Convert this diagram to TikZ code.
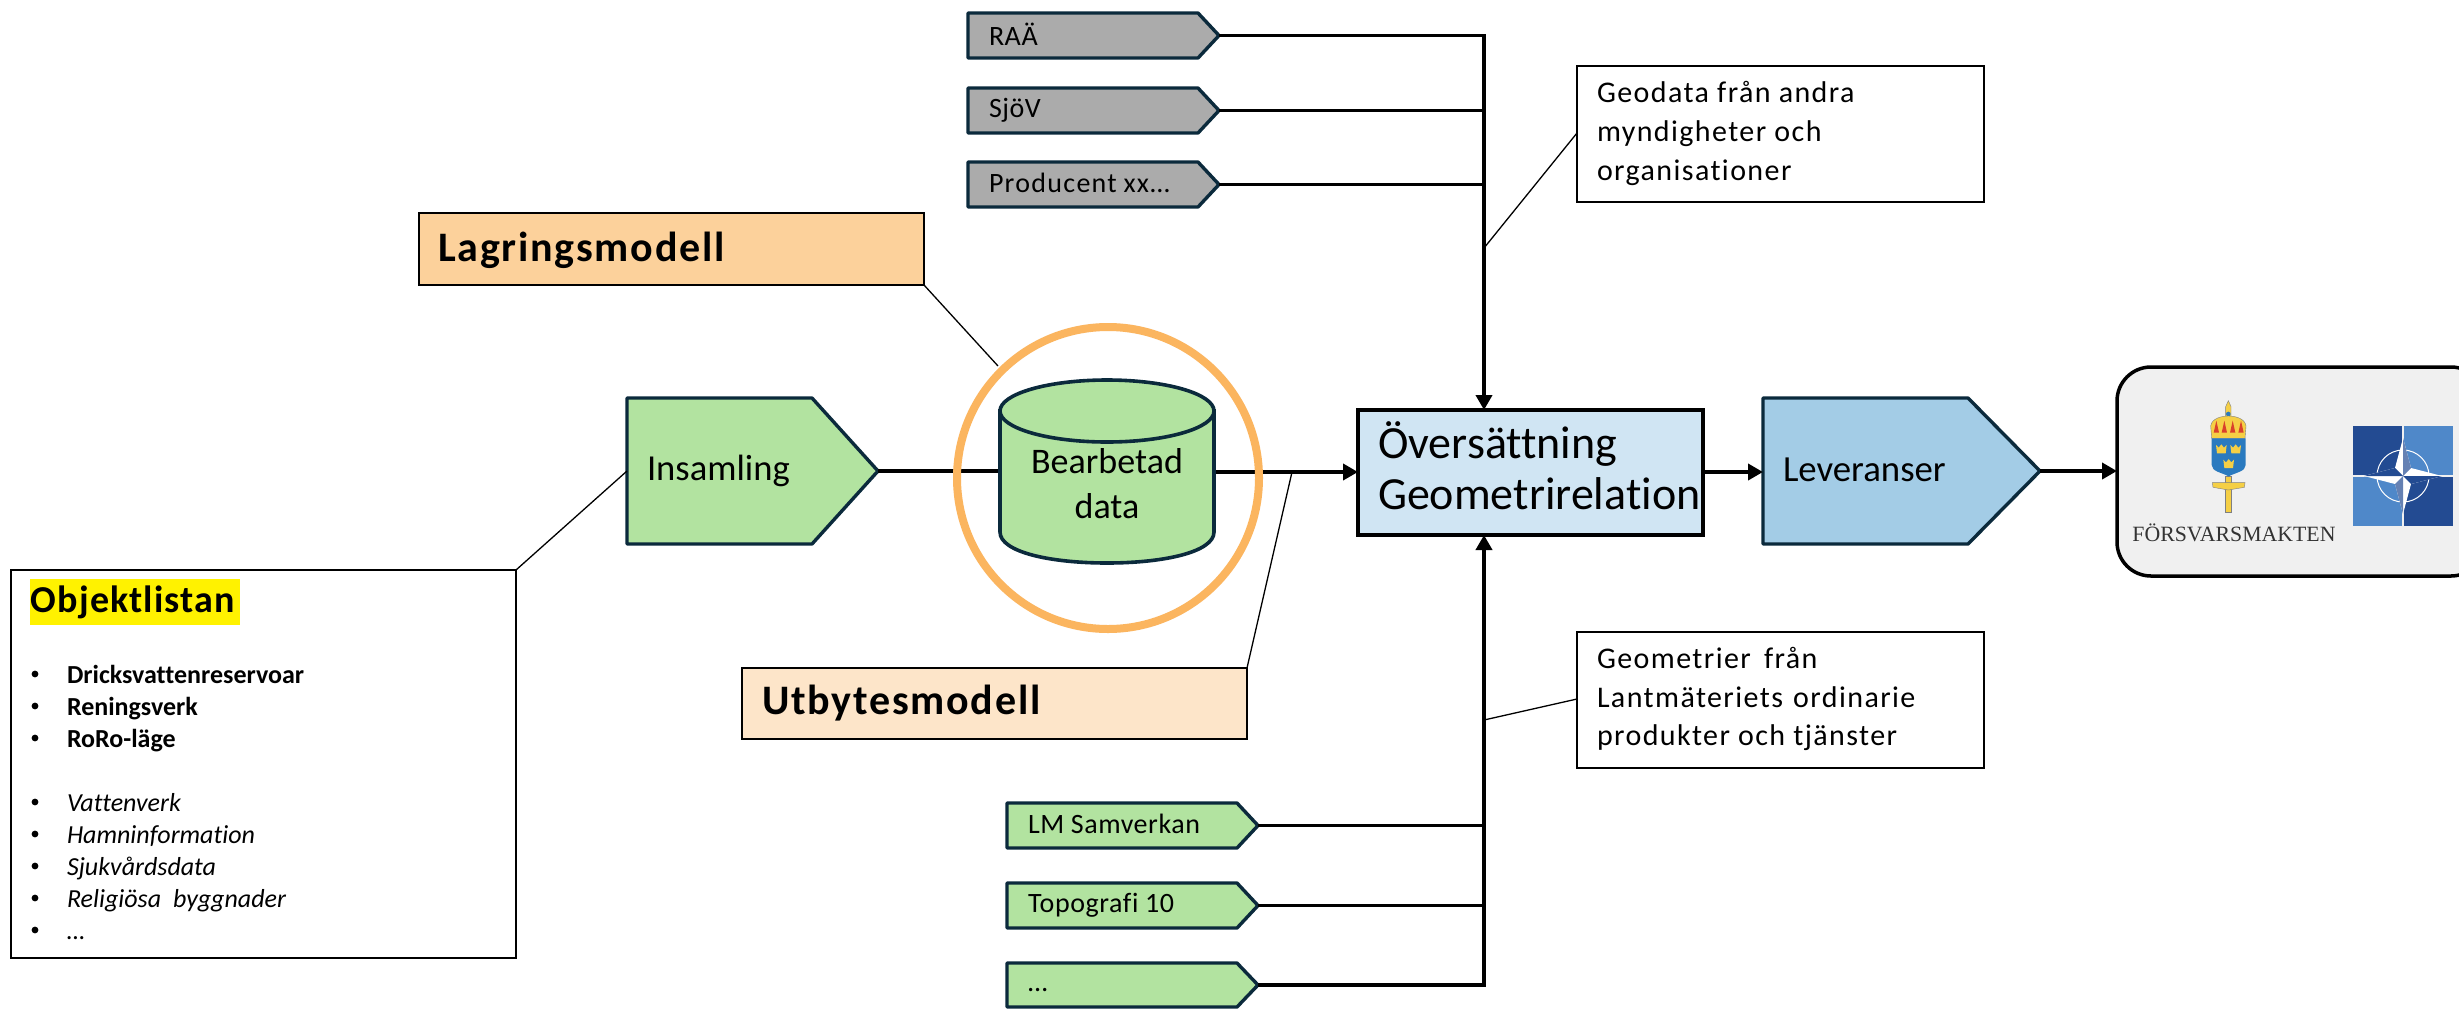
\documentclass[tikz,border=0pt]{standalone}
\usepackage{fontspec}
\setmainfont{Carlito}[Ligatures=NoCommon]
\newfontfamily\serifx{Liberation Serif}
\usetikzlibrary{arrows.meta}
\definecolor{edge}{HTML}{0B2A3C}
\definecolor{greenf}{HTML}{B2E3A0}
\definecolor{grayf}{HTML}{ABABAB}
\definecolor{bluel}{HTML}{D0E5F3}
\definecolor{bluem}{HTML}{A3CCE6}
\definecolor{ringc}{HTML}{FBB55F}
\definecolor{lagc}{HTML}{FCD19B}
\definecolor{utbc}{HTML}{FDE5C9}
\definecolor{natod}{HTML}{234B92}
\definecolor{natol}{HTML}{4F88C9}
\definecolor{crowny}{HTML}{F5CF45}
\definecolor{crownr}{HTML}{D9412B}
\definecolor{shieldb}{HTML}{2A7ABF}
\tikzset{
  pentashape/.style={draw=edge,line width=1.7pt,line join=round},
  pentalabel/.style={anchor=west,inner sep=0pt,outer sep=0pt,align=left},
  mainline/.style={draw=black,line width=1.95pt},
  arrowline/.style={mainline,-{Triangle[length=7.5pt,width=8pt]}},
  callout/.style={draw=black,line width=0.65pt},
  notebox/.style={draw=black,line width=0.65pt,inner sep=0pt,outer sep=0pt,anchor=north west,align=left},
  txtpiece/.style={anchor=base west,inner sep=0pt,outer sep=0pt},
}
\newcommand{\smallfont}{\fontsize{14}{19}\selectfont\addfontfeature{LetterSpace=2}}
\newcommand{\notefont}{\fontsize{15}{19}\selectfont\addfontfeature{LetterSpace=4.7}}
\newcommand{\listfont}{\fontsize{13}{16}\selectfont}
\newcommand{\headfont}{\fontsize{21}{24}\selectfont\bfseries\addfontfeature{LetterSpace=4.2}}
% name, x0, y0, x1, y1, shoulder x, fill, indent, text (with font)
\newcommand{\pentagonnode}[9]{%
  \pgfmathsetmacro{\pcy}{(#3+#5)/2}%
  \draw[pentashape,fill=#7] (#2,#3) -- (#6,#3) -- (#4,\pcy) -- (#6,#5) -- (#2,#5) -- cycle;
  \node[pentalabel,minimum width={(#4-#2)*0.5pt},minimum height={(#5-#3)*0.5pt},text width={(#4-#2)*0.5pt}] (#1) at (#2,\pcy) {\hspace*{\dimexpr #8pt/2\relax}\vphantom{Äp}#9};
}
\begin{document}
\begin{tikzpicture}[x=0.5pt,y=-0.5pt]
\useasboundingbox (0,0) rectangle (2459,1008);
\fill[white] (0,0) rectangle (2459,1008);

% source pentagons
\pentagonnode{raa}{968}{13}{1219}{58}{1198}{grayf}{21}{\smallfont RAÄ}
\pentagonnode{sjov}{968}{88}{1219}{133}{1198}{grayf}{21}{\smallfont SjöV}
\pentagonnode{prod}{968}{162}{1219}{207}{1198}{grayf}{21}{\fontsize{14}{19}\selectfont\addfontfeature{LetterSpace=4.6}Producent xx…}
\pentagonnode{lmsam}{1007}{803}{1258}{848}{1237}{greenf}{21}{\smallfont LM Samverkan}
\pentagonnode{topo}{1007}{883}{1258}{928}{1237}{greenf}{21}{\smallfont Topografi  10}
\pentagonnode{more}{1007}{963}{1258}{1007}{1237}{greenf}{21}{\smallfont …}

% central boxes
\node[draw=black,line width=1.75pt,fill=bluel,inner sep=0pt,outer sep=0pt,anchor=north west,minimum width=172.5pt,minimum height=62.5pt,text width=172.5pt,align=left,font=\fontsize{23}{25.5}\selectfont] (trans) at (1358,410) {\hspace*{10pt}Översättning\\\hspace*{10pt}Geometrirelation\rule[-6.5pt]{0pt}{1pt}};
\pentagonnode{insam}{627}{398}{878}{544}{812}{greenf}{20}{\fontsize{18.3}{20}\selectfont\raisebox{-1pt}{Insamling}}
\pentagonnode{lev}{1763}{398}{2040}{544}{1968}{bluem}{20}{\fontsize{18.4}{20}\selectfont Leveranser}

% receiver
\begin{scope}
\clip (0,0) rectangle (2459,1008);
\node[draw=black,line width=1.75pt,fill=black!6,rounded corners=17pt,inner sep=0pt,outer sep=0pt,anchor=north west,minimum width=184pt,minimum height=104.5pt] (recv) at (2117,367) {};
\end{scope}

% connectors
\coordinate (busX) at (1484,0);
\coordinate (busTop) at (raa.east -| busX);
\coordinate (busIn) at (trans.north -| busX);
\coordinate (busBot) at (more.east -| busX);
\coordinate (busOut) at (trans.south -| busX);
\coordinate (cylL) at (1000,471);
\coordinate (cylR) at (1214,472);
\draw[mainline] (insam.east) -- (cylL);
\draw[arrowline] (cylR) -- (trans.west |- cylR);
\draw[arrowline] (raa.east) -- (busTop) -- (busIn);
\draw[mainline] (sjov.east) -- (sjov.east -| busTop);
\draw[mainline] (prod.east) -- (prod.east -| busTop);
\draw[arrowline] (more.east) -- (busBot) -- (busOut);
\draw[mainline] (lmsam.east) -- (lmsam.east -| busBot);
\draw[mainline] (topo.east) -- (topo.east -| busBot);
\draw[arrowline] (trans.east |- 0,472) -- (lev.west |- 0,472);
\draw[arrowline] (lev.east) -- (recv.west |- lev.east);

% cylinder
\draw[draw=edge,line width=1.8pt,fill=greenf] (1000,411) -- (1000,532) .. controls (1000,552) and (1050,563) .. (1107,563) .. controls (1164,563) and (1214,552) .. (1214,532) -- (1214,411) -- cycle;
\draw[draw=edge,line width=1.8pt,fill=greenf] (1107,411) ellipse [x radius=107,y radius=31];
\node[inner sep=0pt,outer sep=0pt,align=center,font=\fontsize{18}{22.5}\selectfont] (cyl) at (1107,484) {Bearbetad\\data};
% ring
\draw[draw=ringc,line width=4pt] (1108,478) circle [radius=151];

% note boxes
\node[notebox,minimum width=203.5pt,minimum height=68pt,fill=white] (geo) at (1577,66) {};
\node[txtpiece] (geoA) at (1597,102) {\notefont Geodata från andra};
\node[txtpiece] (geoB) at (1597,141) {\notefont myndigheter och};
\node[txtpiece] (geoC) at (1597,180) {\notefont organisationer};
\node[notebox,minimum width=203.5pt,minimum height=68pt,fill=white] (lmbox) at (1577,632) {};
\node[txtpiece] (lmA) at (1597,668) {\notefont Geometrier\hspace{2.5pt} från};
\node[txtpiece] (lmB) at (1597,707) {\notefont Lantmäteriets\hspace{1pt} ordinarie};
\node[txtpiece] (lmC) at (1597,745) {\notefont produkter och tjänster};
\node[notebox,minimum width=252.5pt,minimum height=36pt,fill=lagc] (lag) at (419,213) {};
\node[txtpiece] (lagT) at (438,261) {\headfont Lagringsmodell};
\node[notebox,minimum width=252.5pt,minimum height=35.5pt,fill=utbc] (utb) at (742,668) {};
\node[txtpiece] (utbT) at (762,714) {\headfont Utbytesmodell};
\node[notebox,minimum width=252.5pt,minimum height=194pt,fill=white] (obj) at (11,570) {};
\fill[yellow] (30,579) rectangle (240,625);
\node[txtpiece] (objT) at (31,612) {\fontsize{19}{20}\selectfont\bfseries\addfontfeature{LetterSpace=2.9}Objektlistan};
\foreach \yy/\tt in {683/{\bfseries Dricksvattenreservoar},715/{\bfseries Reningsverk},747/{\bfseries RoRo-läge},811/{\itshape Vattenverk},843/{\itshape Hamninformation},875/{\itshape Sjukvårdsdata},907/{\itshape Religiösa\hspace{3pt} byggnader},939/{\itshape …}}{
  \node[txtpiece] at (67,\yy) {\listfont \tt};
}
\foreach \yy in {683,715,747,811,843,875,907,939}{
  \fill[black] (35,\yy-9) circle [radius=3.4];
}

% callouts
\coordinate (geoHit) at (1484,248);
\coordinate (lmHit) at (1484,720);
\coordinate (ringHit) at (998,366);
\coordinate (lineHit) at (1292,472);
\draw[callout] (1577,133) -- (geoHit);
\draw[callout] (1577,699) -- (lmHit);
\draw[callout] (lag.south east) -- (ringHit);
\draw[callout] (utb.north east) -- (lineHit);
\draw[callout] (obj.north east) -- (insam.west);

% Swedish emblem: coordinates are those of a 3x crop at (2080,350)
\begin{scope}[shift={(2080,350)},x=0.16667pt,y=-0.16667pt]
\fill[crowny,draw=black!50,line width=0.2pt] (437,200) -- (437,170) -- (445,152) -- (453,170) -- (453,200) -- cycle;
\fill[shieldb] (445,192) circle [radius=7];
\fill[crowny,draw=black!50,line width=0.2pt] (395,265) -- (392,228) .. controls (395,205) and (425,198) .. (445,198) .. controls (465,198) and (495,205) .. (498,228) -- (495,265) -- cycle;
\foreach \cx in {409,433,458,483}{\fill[crownr] (\cx,212) -- (\cx+8,248) -- (\cx-8,248) -- cycle;}
\fill[crowny,draw=black!50,line width=0.2pt] (437,378) rectangle (455,487);
\fill[crowny,draw=black!50,line width=0.2pt] (397,398) -- (495,398) -- (493,412) -- (445,420) -- (399,412) -- cycle;
\fill[shieldb] (395,265) -- (497,265) -- (497,345) .. controls (497,365) and (465,368) .. (446,379) .. controls (427,368) and (395,365) .. (395,345) -- cycle;
\foreach \cx/\cy in {424/297,467/297,446/341}{
  \fill[crowny] (\cx-16,\cy-12) -- (\cx-8,\cy-4) -- (\cx,\cy-14) -- (\cx+8,\cy-4) -- (\cx+16,\cy-12) -- (\cx+13,\cy+13) -- (\cx-13,\cy+13) -- cycle;
}
\end{scope}
\node[anchor=base west,inner sep=0pt,text=black!80] (fm) at (2132,541) {\serifx\fontsize{10.9}{12}\selectfont FÖRSVARSMAKTEN};

% NATO emblem
\begin{scope}[shift={(2353,426)}]
\fill[natod] (0,0) rectangle (49,49);
\fill[natol] (51,0) rectangle (100,49);
\fill[natol] (0,51) rectangle (49,100);
\fill[natod] (51,51) rectangle (100,100);
\draw[white,line width=0.5pt] (50,50) circle [radius=26];
\fill[white] (50,12) -- (58,42) -- (89,50) -- (58,58) -- (50,88) -- (42,58) -- (11,50) -- (42,42) -- cycle;
\fill[natod!70!white] (50,12) -- (50,50) -- (58,42) -- cycle;
\fill[natod] (89,50) -- (50,50) -- (58,58) -- cycle;
\fill[natod!70!white] (50,88) -- (50,50) -- (42,58) -- cycle;
\fill[natod] (11,50) -- (50,50) -- (42,42) -- cycle;
\end{scope}
\end{tikzpicture}
\end{document}
